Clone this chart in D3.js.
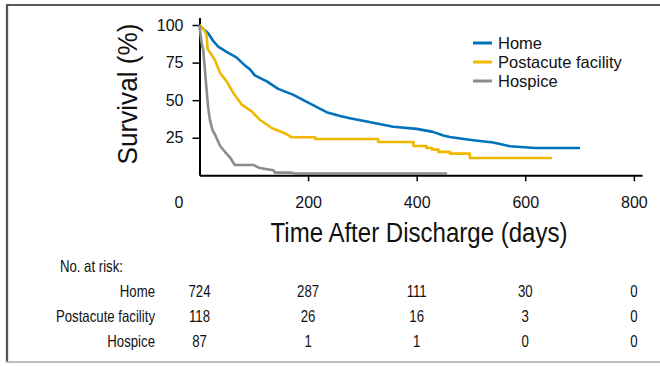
<!DOCTYPE html>
<meta charset="utf-8">
<style>
  body { margin: 0; background: #fff; font-family: 'Liberation Sans', Arial, sans-serif; }
  .axis path, .axis line { fill: none; stroke: #000; stroke-width: 2; }
  .axis text { font-size: 16px; fill: #111; font-family: 'Liberation Sans', Arial, sans-serif; }
  .narrow { font-family: 'Liberation Sans Narrow', 'Arial Narrow', 'Liberation Sans', sans-serif; fill: #111; }
  .legend text { font-size: 16.5px; fill: #111; }
</style>
<body>
<div id="chart"></div>
<script src="https://d3js.org/d3.v7.min.js"></script>
<script>
// survival curves: [days, survival %]
var homeCurve = [[0,100],[5,98],[16,94.5],[25,89.5],[35,85.5],[53,81.5],[68,78.5],[84,73],[93,70.5],[102,66.5],
  [124,62.5],[145,57.5],[173,53.5],[194,49.5],[210,46.5],[234,42],[259,39.5],[277,38],[308,35.8],
  [357,32.3],[400,30.9],[430,28.9],[449,26.5],[461,25.5],[504,23.3],[541,21.8],[572,19.3],[618,18.2],[701,18.2]];
var postacuteCurve = [[0,100],[8,97],[13,93.5],[15,84],[28,77],[38,68],[50,62.5],[62,55],[78,47],[96,42.5],
  [111,37],[133,31.5],[157,28],[170,25.3],[213,25.3],[213,24.2],[329,24.2],[329,22.2],[394,22.2],[394,19.5],
  [418,19.5],[418,18.2],[428,18.2],[428,17.1],[440,17.1],[440,15.6],[461,15.6],[461,14.4],[498,14.4],
  [498,11.5],[649,11.5]];
var hospiceCurve = [[0,100],[2,93],[4,88],[7,83],[10,70],[13,57],[16,45],[19,37],[24,30],[30,26],[38,19.5],
  [46,16],[56,12],[62,8.5],[65,6.9],[99,6.9],[111,4.8],[136,3.3],[139,1.8],[170,1.8],[175,1.1],[456,1.1]];

var groups = ["Home", "Postacute facility", "Hospice"];
var colors = ["#0072bc", "#f0b900", "#8c8c8c"];
var xTicks = [0, 200, 400, 600, 800];
var yTicks = [25, 50, 75, 100];
var atRisk = [[724, 287, 111, 30, 0], [118, 26, 16, 3, 0], [87, 1, 1, 0, 0]];

var width = 660, height = 366;
var svg = d3.select("#chart").append("svg")
  .attr("width", width).attr("height", height);

// frame round the figure
svg.append("line").attr("x1", 6).attr("x2", 660).attr("y1", 5).attr("y2", 5)
  .style("stroke", "#222").style("stroke-width", 1.7);
svg.append("line").attr("x1", 7).attr("x2", 7).attr("y1", 4).attr("y2", 362)
  .style("stroke", "#555").style("stroke-width", 2.3);
svg.append("line").attr("x1", 6).attr("x2", 660).attr("y1", 362).attr("y2", 362)
  .style("stroke", "#aaa").style("stroke-width", 1.5);

var x = d3.scaleLinear().domain([0, 815]).range([199.5, 642]);
var y = d3.scaleLinear().domain([0, 105]).range([175.3, 17.5]);

// x axis
var xAxis = svg.append("g").attr("class", "axis")
  .attr("transform", "translate(0," + y(0) + ")")
  .call(d3.axisBottom(x).tickValues(xTicks).tickSize(6).tickSizeOuter(0).tickPadding(15));
xAxis.selectAll(".tick").filter(function(d) { return d === 0; }).select("line").remove();
xAxis.selectAll(".tick").filter(function(d) { return d === 0; }).select("text").attr("dx", -21);
xAxis.selectAll(".tick line").style("stroke-width", 1.5);

// y axis
var yAxis = svg.append("g").attr("class", "axis")
  .attr("transform", "translate(" + x(0) + ",0)")
  .call(d3.axisLeft(y).tickValues(yTicks).tickSize(7).tickSizeOuter(0).tickPadding(9));
yAxis.selectAll(".tick line").style("stroke-width", 1.5);

// curves
var line = d3.line().x(function(d) { return x(d[0]); }).y(function(d) { return y(d[1]); });
[homeCurve, postacuteCurve, hospiceCurve].forEach(function(c, i) {
  svg.append("path").datum(c)
    .attr("d", line)
    .style("fill", "none")
    .style("stroke", colors[i])
    .style("stroke-width", 2.6)
    .style("stroke-linejoin", "round");
});

// legend
var legend = svg.append("g").attr("class", "legend");
groups.forEach(function(g, i) {
  var ly = 43 + i * 19;
  legend.append("line").attr("x1", 473).attr("x2", 492).attr("y1", ly).attr("y2", ly)
    .style("stroke", colors[i]).style("stroke-width", 3);
  legend.append("text").attr("x", 498).attr("y", ly).attr("dy", "0.36em").text(g);
});

// axis titles (squeeze factor in data-k)
svg.append("text").attr("class", "narrow").attr("data-k", 0.89)
  .attr("x", 419).attr("y", 242)
  .attr("text-anchor", "middle")
  .style("font-size", "27px")
  .text("Time After Discharge (days)");
svg.append("text").attr("class", "narrow").attr("data-k", 0.97)
  .attr("transform", "translate(137,94) rotate(-90)")
  .attr("text-anchor", "middle")
  .style("font-size", "27px")
  .text("Survival (%)");

// number at risk table
svg.append("text").attr("class", "narrow").attr("data-k", 0.8)
  .attr("x", 123).attr("y", 266).attr("dy", "0.35em")
  .attr("text-anchor", "end").style("font-size", "16.5px")
  .text("No. at risk:");
groups.forEach(function(g, i) {
  var ry = 291 + i * 25;
  svg.append("text").attr("class", "narrow").attr("data-k", 0.8)
    .attr("x", 155).attr("y", ry).attr("dy", "0.35em")
    .attr("text-anchor", "end").style("font-size", "16.5px")
    .text(g);
  svg.selectAll(".risk" + i)
    .data(atRisk[i])
    .enter().append("text")
    .attr("class", "narrow risk" + i).attr("data-k", 0.8)
    .attr("x", function(d, j) { return x(xTicks[j]); })
    .attr("y", ry).attr("dy", "0.35em")
    .attr("text-anchor", "middle").style("font-size", "16.5px")
    .text(function(d) { return d; });
});

// no narrow font installed: squeeze the condensed texts horizontally
svg.selectAll("text.narrow").each(function() {
  var len = this.getComputedTextLength();
  var k = +this.getAttribute("data-k");
  d3.select(this).attr("textLength", len * k).attr("lengthAdjust", "spacingAndGlyphs");
});
</script>
</body>
